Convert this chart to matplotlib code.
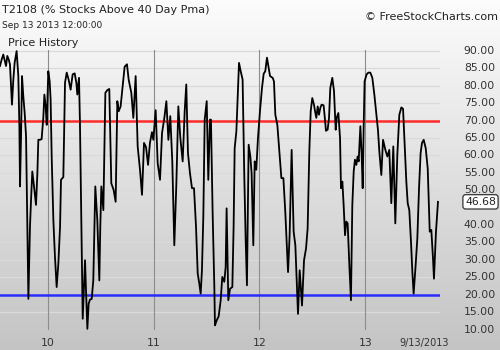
import numpy as np
import matplotlib
matplotlib.use("Agg")
import matplotlib.pyplot as plt
import matplotlib.transforms as mtransforms

# ---- data (decimal year, T2108 value) ----
years = [
    2009.550, 2009.566, 2009.581, 2009.594, 2009.607, 2009.619, 2009.632, 2009.644, 2009.663, 2009.676,
    2009.688, 2009.707, 2009.723, 2009.733, 2009.739, 2009.748, 2009.758, 2009.770, 2009.783, 2009.796,
    2009.805, 2009.818, 2009.833, 2009.843, 2009.855, 2009.868, 2009.881, 2009.890, 2009.903, 2009.912,
    2009.928, 2009.943, 2009.959, 2009.969, 2009.981, 2009.991, 2010.006, 2010.019, 2010.028, 2010.038,
    2010.054, 2010.069, 2010.085, 2010.101, 2010.117, 2010.126, 2010.148, 2010.164, 2010.180, 2010.198,
    2010.217, 2010.236, 2010.255, 2010.271, 2010.280, 2010.296, 2010.305, 2010.318, 2010.331, 2010.353,
    2010.362, 2010.375, 2010.387, 2010.400, 2010.416, 2010.431, 2010.450, 2010.469, 2010.488, 2010.497,
    2010.507, 2010.526, 2010.545, 2010.564, 2010.582, 2010.601, 2010.623, 2010.642, 2010.658, 2010.671,
    2010.689, 2010.708, 2010.727, 2010.749, 2010.765, 2010.778, 2010.790, 2010.809, 2010.831, 2010.844,
    2010.850, 2010.872, 2010.891, 2010.910, 2010.929, 2010.948, 2010.966, 2010.985, 2010.998, 2011.020,
    2011.039, 2011.061, 2011.080, 2011.102, 2011.121, 2011.140, 2011.158, 2011.177, 2011.196, 2011.215,
    2011.234, 2011.253, 2011.275, 2011.294, 2011.309, 2011.325, 2011.344, 2011.363, 2011.382, 2011.401,
    2011.417, 2011.432, 2011.445, 2011.457, 2011.470, 2011.483, 2011.502, 2011.517, 2011.533, 2011.542,
    2011.558, 2011.574, 2011.580, 2011.596, 2011.615, 2011.634, 2011.649, 2011.668, 2011.681, 2011.690,
    2011.706, 2011.722, 2011.744, 2011.756, 2011.766, 2011.782, 2011.794, 2011.807, 2011.823, 2011.841,
    2011.857, 2011.870, 2011.882, 2011.898, 2011.914, 2011.926, 2011.942, 2011.955, 2011.970, 2011.986,
    2012.005, 2012.024, 2012.040, 2012.055, 2012.071, 2012.087, 2012.100, 2012.125, 2012.137, 2012.150,
    2012.169, 2012.188, 2012.207, 2012.226, 2012.244, 2012.270, 2012.285, 2012.304, 2012.323, 2012.339,
    2012.364, 2012.380, 2012.402, 2012.421, 2012.440, 2012.455, 2012.471, 2012.484, 2012.499, 2012.515,
    2012.525, 2012.537, 2012.550, 2012.562, 2012.575, 2012.587, 2012.606, 2012.619, 2012.628, 2012.644,
    2012.657, 2012.669, 2012.688, 2012.704, 2012.720, 2012.729, 2012.745, 2012.761, 2012.770, 2012.783,
    2012.795, 2012.808, 2012.820, 2012.833, 2012.849, 2012.864, 2012.877, 2012.890, 2012.902, 2012.915,
    2012.927, 2012.937, 2012.953, 2012.965, 2012.975, 2012.984, 2012.993, 2013.012, 2013.028, 2013.047,
    2013.066, 2013.085, 2013.104, 2013.119, 2013.132, 2013.151, 2013.167, 2013.189, 2013.208, 2013.226,
    2013.245, 2013.264, 2013.283, 2013.302, 2013.321, 2013.340, 2013.356, 2013.371, 2013.387, 2013.400,
    2013.415, 2013.431, 2013.444, 2013.456, 2013.475, 2013.491, 2013.507, 2013.522, 2013.535, 2013.551,
    2013.570, 2013.589, 2013.608, 2013.623, 2013.639, 2013.648, 2013.667, 2013.686,
]
values = [
    85.7, 87.6, 89.0, 87.4, 85.7, 88.6, 87.6, 86.2, 74.6, 81.8,
    86.6, 90.0, 82.8, 68.4, 51.1, 64.5, 82.8, 77.0, 72.2, 65.5,
    47.2, 18.8, 39.5, 47.2, 55.4, 52.0, 48.2, 45.8, 54.9, 64.5,
    64.5, 64.7, 70.8, 77.5, 74.1, 68.8, 84.2, 81.3, 76.1, 59.7,
    41.4, 30.9, 22.2, 28.9, 39.5, 53.0, 53.8, 80.9, 83.8, 81.8,
    78.9, 83.3, 83.6, 80.9, 77.5, 82.3, 69.3, 40.5, 13.1, 29.9,
    21.3, 10.2, 17.4, 18.6, 18.8, 24.1, 51.1, 41.4, 24.1, 39.5,
    51.1, 44.3, 78.0, 78.8, 79.1, 52.0, 50.1, 46.7, 75.6, 72.7,
    74.1, 79.9, 85.5, 86.2, 81.8, 79.9, 78.0, 70.8, 82.8, 69.3,
    62.6, 55.9, 48.7, 63.6, 62.4, 57.3, 63.6, 66.7, 64.5, 73.0,
    57.8, 53.0, 66.4, 70.8, 75.6, 64.5, 71.3, 58.3, 34.2, 51.5,
    74.1, 65.0, 58.3, 72.7, 80.4, 60.7, 54.9, 50.6, 50.6, 39.5,
    26.1, 23.2, 20.3, 27.0, 42.4, 70.3, 75.6, 53.0, 70.3, 70.3,
    43.4, 22.2, 11.2, 12.6, 13.8, 18.4, 25.1, 23.7, 28.0, 44.8,
    18.4, 21.7, 22.2, 39.5, 62.1, 66.9, 76.1, 86.6, 84.2, 81.8,
    53.9, 35.7, 22.7, 63.1, 59.7, 54.9, 34.2, 58.3, 55.9, 65.0,
    72.7, 79.4, 83.5, 84.2, 88.1, 85.2, 82.8, 82.3, 81.3, 71.7,
    68.8, 61.2, 53.5, 53.5, 43.8, 26.5, 37.1, 61.6, 38.1, 34.2,
    14.5, 27.0, 16.9, 29.9, 33.3, 39.0, 61.2, 72.7, 76.5, 74.6,
    72.7, 70.8, 74.1, 71.7, 73.7, 74.6, 74.4, 70.3, 67.1, 67.4,
    70.8, 79.4, 82.3, 78.5, 67.4, 70.8, 72.2, 65.0, 50.6, 52.5,
    45.8, 37.1, 41.0, 40.5, 28.5, 18.4, 45.8, 55.4, 58.8, 57.3,
    59.7, 58.3, 68.4, 60.2, 50.6, 67.9, 81.3, 83.3, 83.8, 83.8,
    82.3, 77.5, 71.7, 67.4, 61.2, 54.4, 64.5, 61.6, 59.7, 61.6,
    46.3, 62.6, 40.5, 60.2, 71.7, 73.8, 73.4, 63.1, 52.5, 46.3,
    44.3, 35.2, 26.5, 20.3, 28.5, 36.2, 50.6, 60.7, 63.6, 64.5,
    62.1, 56.3, 38.1, 38.6, 30.4, 24.6, 38.1, 46.68,
]
year_ticks = [2010, 2011, 2012, 2013]
year_labels = ["10", "11", "12", "13"]
y_ticks = [10, 15, 20, 25, 30, 35, 40, 45, 50, 55, 60, 65, 70, 75, 80, 85, 90]
upper_level = 70
lower_level = 20
last_value = 46.68
last_date_label = "9/13/2013"
last_date = 2013.686

W, H = 500, 350
fig = plt.figure(figsize=(W / 100, H / 100), dpi=100)

# background gradient over the whole figure
bg = fig.add_axes([0, 0, 1, 1], zorder=-10)
grad = np.linspace(0, 1, 256).reshape(-1, 1)
top_c = np.array([252, 252, 252]) / 255
bot_c = np.array([196, 196, 196]) / 255
img = top_c + (bot_c - top_c) * grad[:, :, None]
bg.imshow(img, aspect="auto", extent=[0, 1, 0, 1], origin="upper")
bg.set_axis_off()

ax = fig.add_axes([0, 20 / H, 440 / W, 280 / H])
ax.patch.set_alpha(0)
ax.set_xlim(2009.550, 2013.705)
ax.set_ylim(9.86, 90.3)
for s in ax.spines.values():
    s.set_visible(False)
ax.set_xticks([])
ax.set_yticks([])

for yv in y_ticks:
    ax.axhline(yv, color="#dadada", lw=0.9, zorder=1)
for xv in year_ticks:
    ax.axvline(xv, color="#8c8c8c", lw=0.8, zorder=1)

ax.axhline(upper_level, color="#ff2b2b", lw=1.8, zorder=2)
ax.axhline(lower_level, color="#2b2bff", lw=1.8, zorder=2)
ax.plot(years, values, color="black", lw=1.3, zorder=3)

# right-side value labels (figure inches for x, data for y)
rtrans = mtransforms.blended_transform_factory(fig.dpi_scale_trans, ax.transData)
for yv in y_ticks:
    if yv == 45:
        continue
    ax.text(4.95, yv, f"{yv:.2f}", transform=rtrans, ha="right", va="center",
            fontsize=7.8, color="#333333", clip_on=False)

# last value box
ax.text(4.805, last_value, f"{last_value:.2f}", transform=rtrans,
        ha="center", va="center", fontsize=7.8, color="#222222",
        bbox=dict(boxstyle="round,pad=0.2,rounding_size=0.25", fc="white", ec="#333333", lw=0.9),
        clip_on=False)

# x labels
for xv, lab in zip(year_ticks, year_labels):
    ax.text(xv, -0.045, lab, transform=ax.get_xaxis_transform(), ha="center", va="center",
            fontsize=7.8, color="#333333", clip_on=False)
ax.text(last_date - 0.13, -0.045, last_date_label, transform=ax.get_xaxis_transform(),
        ha="center", va="center", fontsize=7, color="#333333", clip_on=False)

# titles
fig.text(2 / W, 1 - 10 / H, "T2108 (% Stocks Above 40 Day Pma)", ha="left", va="center",
         fontsize=8.0, color="#222222")
fig.text(2 / W, 1 - 25 / H, "Sep 13 2013 12:00:00", ha="left", va="center",
         fontsize=6.5, color="#222222")
fig.text(8 / W, 1 - 43 / H, "Price History", ha="left", va="center",
         fontsize=8, color="#222222")
fig.text(498 / W, 1 - 17 / H, "© FreeStockCharts.com", ha="right", va="center",
         fontsize=8, color="#222222")

fig.savefig("out.png", dpi=100)
